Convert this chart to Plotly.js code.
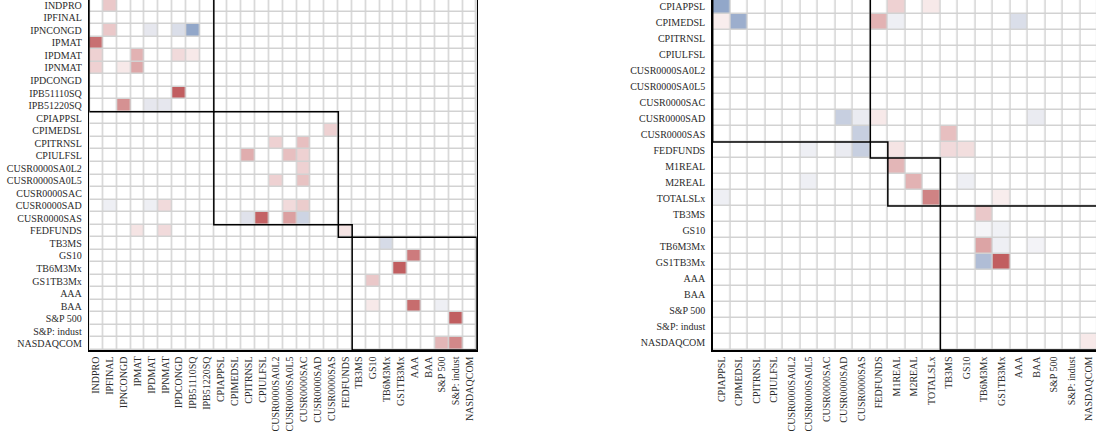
<!DOCTYPE html>
<html><head><meta charset="utf-8">
<script src="https://cdn.plot.ly/plotly-3.0.1.min.js"></script>
<style>
html,body{margin:0;padding:0;overflow:hidden;background:#fff;width:1096px;height:433px}
#chart{position:absolute;left:0;top:-2px;width:1098px;height:435px}
</style>
</head><body><div id="chart"></div>
<script>
// ---- data ----
const leftLabels = ['INDPRO','IPFINAL','IPNCONGD','IPMAT','IPDMAT','IPNMAT','IPDCONGD','IPB51110SQ','IPB51220SQ',
  'CPIAPPSL','CPIMEDSL','CPITRNSL','CPIULFSL','CUSR0000SA0L2','CUSR0000SA0L5','CUSR0000SAC','CUSR0000SAD','CUSR0000SAS',
  'FEDFUNDS','TB3MS','GS10','TB6M3Mx','GS1TB3Mx','AAA','BAA','S&P 500','S&P: indust','NASDAQCOM'];
const leftBlocks = [9, 9, 1, 9];
// [row, column, value]
const leftCells = [
  ['INDPRO','IPFINAL',0.3],
  ['IPNCONGD','IPFINAL',0.3],['IPNCONGD','IPDMAT',-0.12],['IPNCONGD','IPDCONGD',-0.18],['IPNCONGD','IPB51110SQ',-0.55],
  ['IPMAT','INDPRO',0.78],
  ['IPDMAT','INDPRO',0.25],['IPDMAT','IPMAT',0.42],['IPDMAT','IPDCONGD',0.2],['IPDMAT','IPB51110SQ',0.12],
  ['IPNMAT','INDPRO',0.25],['IPNMAT','IPNCONGD',0.12],['IPNMAT','IPMAT',0.48],
  ['IPB51110SQ','IPDCONGD',0.88],
  ['IPB51220SQ','IPNCONGD',0.6],['IPB51220SQ','IPDMAT',-0.12],['IPB51220SQ','IPNMAT',-0.12],
  ['CPIMEDSL','CUSR0000SAS',0.25],
  ['CPITRNSL','CUSR0000SA0L2',0.25],['CPITRNSL','CUSR0000SAC',0.35],
  ['CPIULFSL','CPITRNSL',0.45],['CPIULFSL','CUSR0000SA0L5',0.35],['CPIULFSL','CUSR0000SAC',0.25],
  ['CUSR0000SA0L2','CUSR0000SAC',0.25],
  ['CUSR0000SA0L5','CUSR0000SA0L2',0.25],['CUSR0000SA0L5','CUSR0000SAC',0.33],
  ['CUSR0000SAD','IPFINAL',-0.08],['CUSR0000SAD','IPDMAT',-0.08],['CUSR0000SAD','IPNMAT',0.2],
  ['CUSR0000SAD','CUSR0000SA0L5',0.2],['CUSR0000SAD','CUSR0000SAC',0.28],
  ['CUSR0000SAS','CPITRNSL',-0.15],['CUSR0000SAS','CPIULFSL',0.85],['CUSR0000SAS','CUSR0000SA0L5',0.52],['CUSR0000SAS','CUSR0000SAC',-0.25],
  ['FEDFUNDS','IPMAT',0.15],['FEDFUNDS','IPNMAT',0.2],['FEDFUNDS','FEDFUNDS',0.15],
  ['TB3MS','TB6M3Mx',-0.2],
  ['GS10','AAA',0.72],
  ['TB6M3Mx','GS1TB3Mx',0.88],
  ['GS1TB3Mx','GS10',0.3],
  ['BAA','GS10',0.12],['BAA','AAA',0.8],['BAA','S&P 500',-0.08],
  ['S&P 500','S&P: indust',0.88],
  ['NASDAQCOM','S&P 500',0.4],['NASDAQCOM','S&P: indust',0.65]
];

const rightLabels = ['CPIAPPSL','CPIMEDSL','CPITRNSL','CPIULFSL','CUSR0000SA0L2','CUSR0000SA0L5','CUSR0000SAC','CUSR0000SAD','CUSR0000SAS',
  'FEDFUNDS','M1REAL','M2REAL','TOTALSLx','TB3MS','GS10','TB6M3Mx','GS1TB3Mx','AAA','BAA','S&P 500','S&P: indust','NASDAQCOM'];
const rightBlocks = [9, 1, 3, 9];
const rightCells = [
  ['CPIAPPSL','CPIAPPSL',-0.55],['CPIAPPSL','M1REAL',0.25],['CPIAPPSL','TOTALSLx',0.12],
  ['CPIMEDSL','CPIAPPSL',0.1],['CPIMEDSL','CPIMEDSL',-0.5],['CPIMEDSL','FEDFUNDS',0.42],['CPIMEDSL','M1REAL',-0.08],['CPIMEDSL','AAA',-0.18],
  ['CUSR0000SAD','CUSR0000SAD',-0.28],['CUSR0000SAD','CUSR0000SAS',-0.1],['CUSR0000SAD','FEDFUNDS',0.12],['CUSR0000SAD','BAA',-0.1],
  ['CUSR0000SAS','CUSR0000SAS',-0.28],['CUSR0000SAS','TB3MS',0.35],
  ['FEDFUNDS','CUSR0000SA0L5',-0.08],['FEDFUNDS','CUSR0000SAD',-0.1],['FEDFUNDS','CUSR0000SAS',-0.28],
  ['FEDFUNDS','M1REAL',0.15],['FEDFUNDS','TB3MS',0.2],['FEDFUNDS','GS10',0.18],
  ['M1REAL','M1REAL',0.4],
  ['M2REAL','CUSR0000SA0L5',-0.08],['M2REAL','M2REAL',0.42],['M2REAL','GS10',-0.08],
  ['TOTALSLx','CPIAPPSL',-0.08],['TOTALSLx','TOTALSLx',0.68],['TOTALSLx','GS1TB3Mx',0.1],
  ['TB3MS','TB6M3Mx',0.3],
  ['GS10','TB6M3Mx',-0.05],['GS10','GS1TB3Mx',-0.07],
  ['TB6M3Mx','TB6M3Mx',0.5],['TB6M3Mx','GS1TB3Mx',-0.08],['TB6M3Mx','BAA',-0.06],
  ['GS1TB3Mx','TB6M3Mx',-0.4],['GS1TB3Mx','GS1TB3Mx',0.88],
  ['NASDAQCOM','NASDAQCOM',0.12]
];

// ---- build ----
function matrix(labels, cells){
  const z = labels.map(()=>labels.map(()=>0));
  cells.forEach(([r,c,v])=>{ z[labels.indexOf(r)][labels.indexOf(c)] = v; });
  return z;
}
function blockShapes(blocks, xr, yr){
  const shapes = []; let s = 0;
  blocks.forEach(n=>{
    shapes.push({type:'rect', xref:xr, yref:yr, x0:s-0.5, x1:s+n-0.5, y0:s-0.5, y1:s+n-0.5,
      line:{color:'#000', width:1.5}, fillcolor:'rgba(0,0,0,0)', layer:'above'});
    s += n;
  });
  return shapes;
}
const cscale = [[0,'rgb(59,99,162)'],[0.44,'#e6e7ee'],[0.5,'#ffffff'],[1,'rgb(185,72,74)']];
const idxL = leftLabels.map((_,i)=>i), idxR = rightLabels.map((_,i)=>i);
const common = {type:'heatmap', colorscale:cscale, zmin:-1, zmax:1, showscale:false, xgap:1.5, ygap:1.5, hoverinfo:'skip'};
const traces = [
  Object.assign({}, common, {x:idxL, y:idxL, z:matrix(leftLabels,leftCells), xaxis:'x', yaxis:'y'}),
  Object.assign({}, common, {x:idxR, y:idxR, z:matrix(rightLabels,rightCells), xaxis:'x2', yaxis:'y2'})
];
const tf = {family:'"Liberation Serif", "Times New Roman", serif', size:10, color:'#2b2b2b'};
function ax(idx, labels, domain, isY){
  return {domain:domain, range: isY ? [labels.length-0.5, -0.5] : [-0.5, labels.length-0.5],
    tickmode:'array', tickvals:idx, ticktext:labels, tickfont:tf, tickangle: isY ? 0 : -90,
    showgrid:false, zeroline:false, showline:true, linecolor:'#000', linewidth:1.5, mirror:true,
    ticks:'outside', ticklen: isY ? 4 : 1, tickcolor:'rgba(0,0,0,0)', fixedrange:true};
}
const layout = {
  width:1098, height:435, margin:{l:0,r:0,t:0,b:83},
  paper_bgcolor:'#fff', plot_bgcolor:'#d2d2d2', showlegend:false,
  xaxis: Object.assign(ax(idxL, leftLabels, [89.3/1098, 476.7/1098], false), {anchor:'y'}),
  yaxis: Object.assign(ax(idxL, leftLabels, [0, 1-1/352], true), {anchor:'x'}),
  xaxis2: Object.assign(ax(idxR, rightLabels, [712.7/1098, 1], false), {anchor:'y2'}),
  yaxis2: Object.assign(ax(idxR, rightLabels, [0, 1], true), {anchor:'x2'}),
  shapes: blockShapes(leftBlocks,'x','y').concat(blockShapes(rightBlocks,'x2','y2'))
};
Plotly.newPlot('chart', traces, layout, {staticPlot:true, displayModeBar:false});
</script></body></html>
